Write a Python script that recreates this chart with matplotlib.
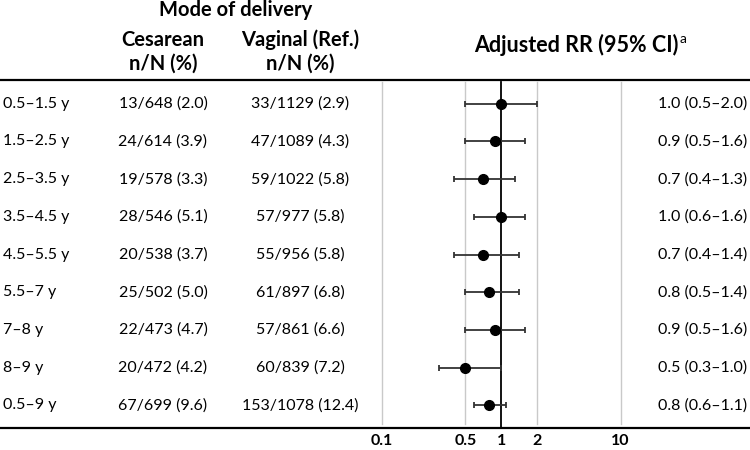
import numpy as np
import matplotlib
matplotlib.use("Agg")
import matplotlib.pyplot as plt
from matplotlib import transforms
from matplotlib.lines import Line2D

plt.rcParams['font.family'] = ['Lato', 'DejaVu Sans']

# datos
age_groups = ['0.5–1.5 y', '1.5–2.5 y', '2.5–3.5 y', '3.5–4.5 y', '4.5–5.5 y',
              '5.5–7 y', '7–8 y', '8–9 y', '0.5–9 y']
cesarean = ['13/648 (2.0)', '24/614 (3.9)', '19/578 (3.3)', '28/546 (5.1)', '20/538 (3.7)',
            '25/502 (5.0)', '22/473 (4.7)', '20/472 (4.2)', '67/699 (9.6)']
vaginal = ['33/1129 (2.9)', '47/1089 (4.3)', '59/1022 (5.8)', '57/977 (5.8)', '55/956 (5.8)',
           '61/897 (6.8)', '57/861 (6.6)', '60/839 (7.2)', '153/1078 (12.4)']
rr = [0.99, 0.89, 0.70, 0.99, 0.70, 0.79, 0.89, 0.50, 0.79]
rr_lo = [0.50, 0.50, 0.40, 0.59, 0.40, 0.50, 0.50, 0.30, 0.59]
rr_hi = [1.99, 1.59, 1.29, 1.59, 1.40, 1.40, 1.59, 0.99, 1.09]
rr_text = ['1.0 (0.5–2.0)', '0.9 (0.5–1.6)', '0.7 (0.4–1.3)', '1.0 (0.6–1.6)', '0.7 (0.4–1.4)',
           '0.8 (0.5–1.4)', '0.9 (0.5–1.6)', '0.5 (0.3–1.0)', '0.8 (0.6–1.1)']
ticks = [0.1, 0.5, 1, 2, 10]
tick_labels = ['0.1', '0.5', '1', '2', '10']

W, H = 750, 450
fig = plt.figure(figsize=(7.5, 4.5), dpi=100)

# eje del forest plot (en pixeles: x=1 en 501, una decada = 119.4 px)
x_one, dec = 501.3, 119.4
xmin, xmax = 0.05, 20
left_px = x_one + np.log10(xmin) * dec
right_px = x_one + np.log10(xmax) * dec
top_px, bot_px = 80, 428
ax = fig.add_axes([left_px / W, 1 - bot_px / H, (right_px - left_px) / W, (bot_px - top_px) / H])
ax.set_facecolor('none')
ax.set_xscale('log')
ax.set_xlim(xmin, xmax)
row0, step = 103.7, 37.7
ax.set_ylim((bot_px - row0) / step, (top_px - row0) / step)
for s in ax.spines.values():
    s.set_visible(False)
ax.set_yticks([])
ax.set_xticks(ticks)
ax.set_xticklabels(tick_labels, fontweight='bold', fontsize=11.5)
ax.xaxis.set_minor_locator(matplotlib.ticker.NullLocator())
ax.tick_params(axis='x', length=0, pad=4)

for t in ticks:
    if t == 1:
        ax.axvline(t, ymin=0.003, ymax=0.995, color='black', lw=1.3, zorder=2)
    else:
        ax.axvline(t, ymin=0.012, ymax=0.995, color='#c9c9c9', lw=1.0, zorder=1)

y = np.arange(len(rr))
rr_a = np.array(rr)
err = [rr_a - np.array(rr_lo), np.array(rr_hi) - rr_a]
ax.errorbar(rr_a, y, xerr=err, fmt='o', color='black', ecolor='#333333', elinewidth=1.3,
            capsize=2.5, capthick=1.3, markersize=7, zorder=3)

# lineas horizontales de toda la figura
for ypx in [top_px, bot_px]:
    fig.add_artist(Line2D([0, 1], [1 - ypx / H, 1 - ypx / H], transform=fig.transFigure,
                          color='black', lw=1.6))

# columnas de texto
tr = transforms.blended_transform_factory(fig.transFigure, ax.transData)
fs = 11.5
for i in range(len(rr)):
    ax.text(3 / W, i, age_groups[i], transform=tr, ha='left', va='center', fontsize=fs)
    ax.text(163 / W, i, cesarean[i], transform=tr, ha='center', va='center', fontsize=fs)
    ax.text(300 / W, i, vaginal[i], transform=tr, ha='center', va='center', fontsize=fs)
    ax.text(747 / W, i, rr_text[i], transform=tr, ha='right', va='center', fontsize=fs)

# encabezados
hs = 14.5
fig.text(236 / W, 1 - 10 / H, 'Mode of delivery', ha='center', va='center', fontsize=hs, fontweight='bold')
fig.text(163 / W, 1 - 40 / H, 'Cesarean', ha='center', va='center', fontsize=hs, fontweight='bold')
fig.text(163 / W, 1 - 64 / H, 'n/N (%)', ha='center', va='center', fontsize=hs, fontweight='bold')
fig.text(300 / W, 1 - 40 / H, 'Vaginal (Ref.)', ha='center', va='center', fontsize=hs, fontweight='bold')
fig.text(300 / W, 1 - 64 / H, 'n/N (%)', ha='center', va='center', fontsize=hs, fontweight='bold')
fig.text(679 / W, 1 - 45 / H, 'Adjusted RR (95% CI)', ha='right', va='center', fontsize=15.5, fontweight='bold')
fig.text(680 / W, 1 - 39 / H, 'a', ha='left', va='center', fontsize=10)

fig.savefig('out.png', dpi=100)
